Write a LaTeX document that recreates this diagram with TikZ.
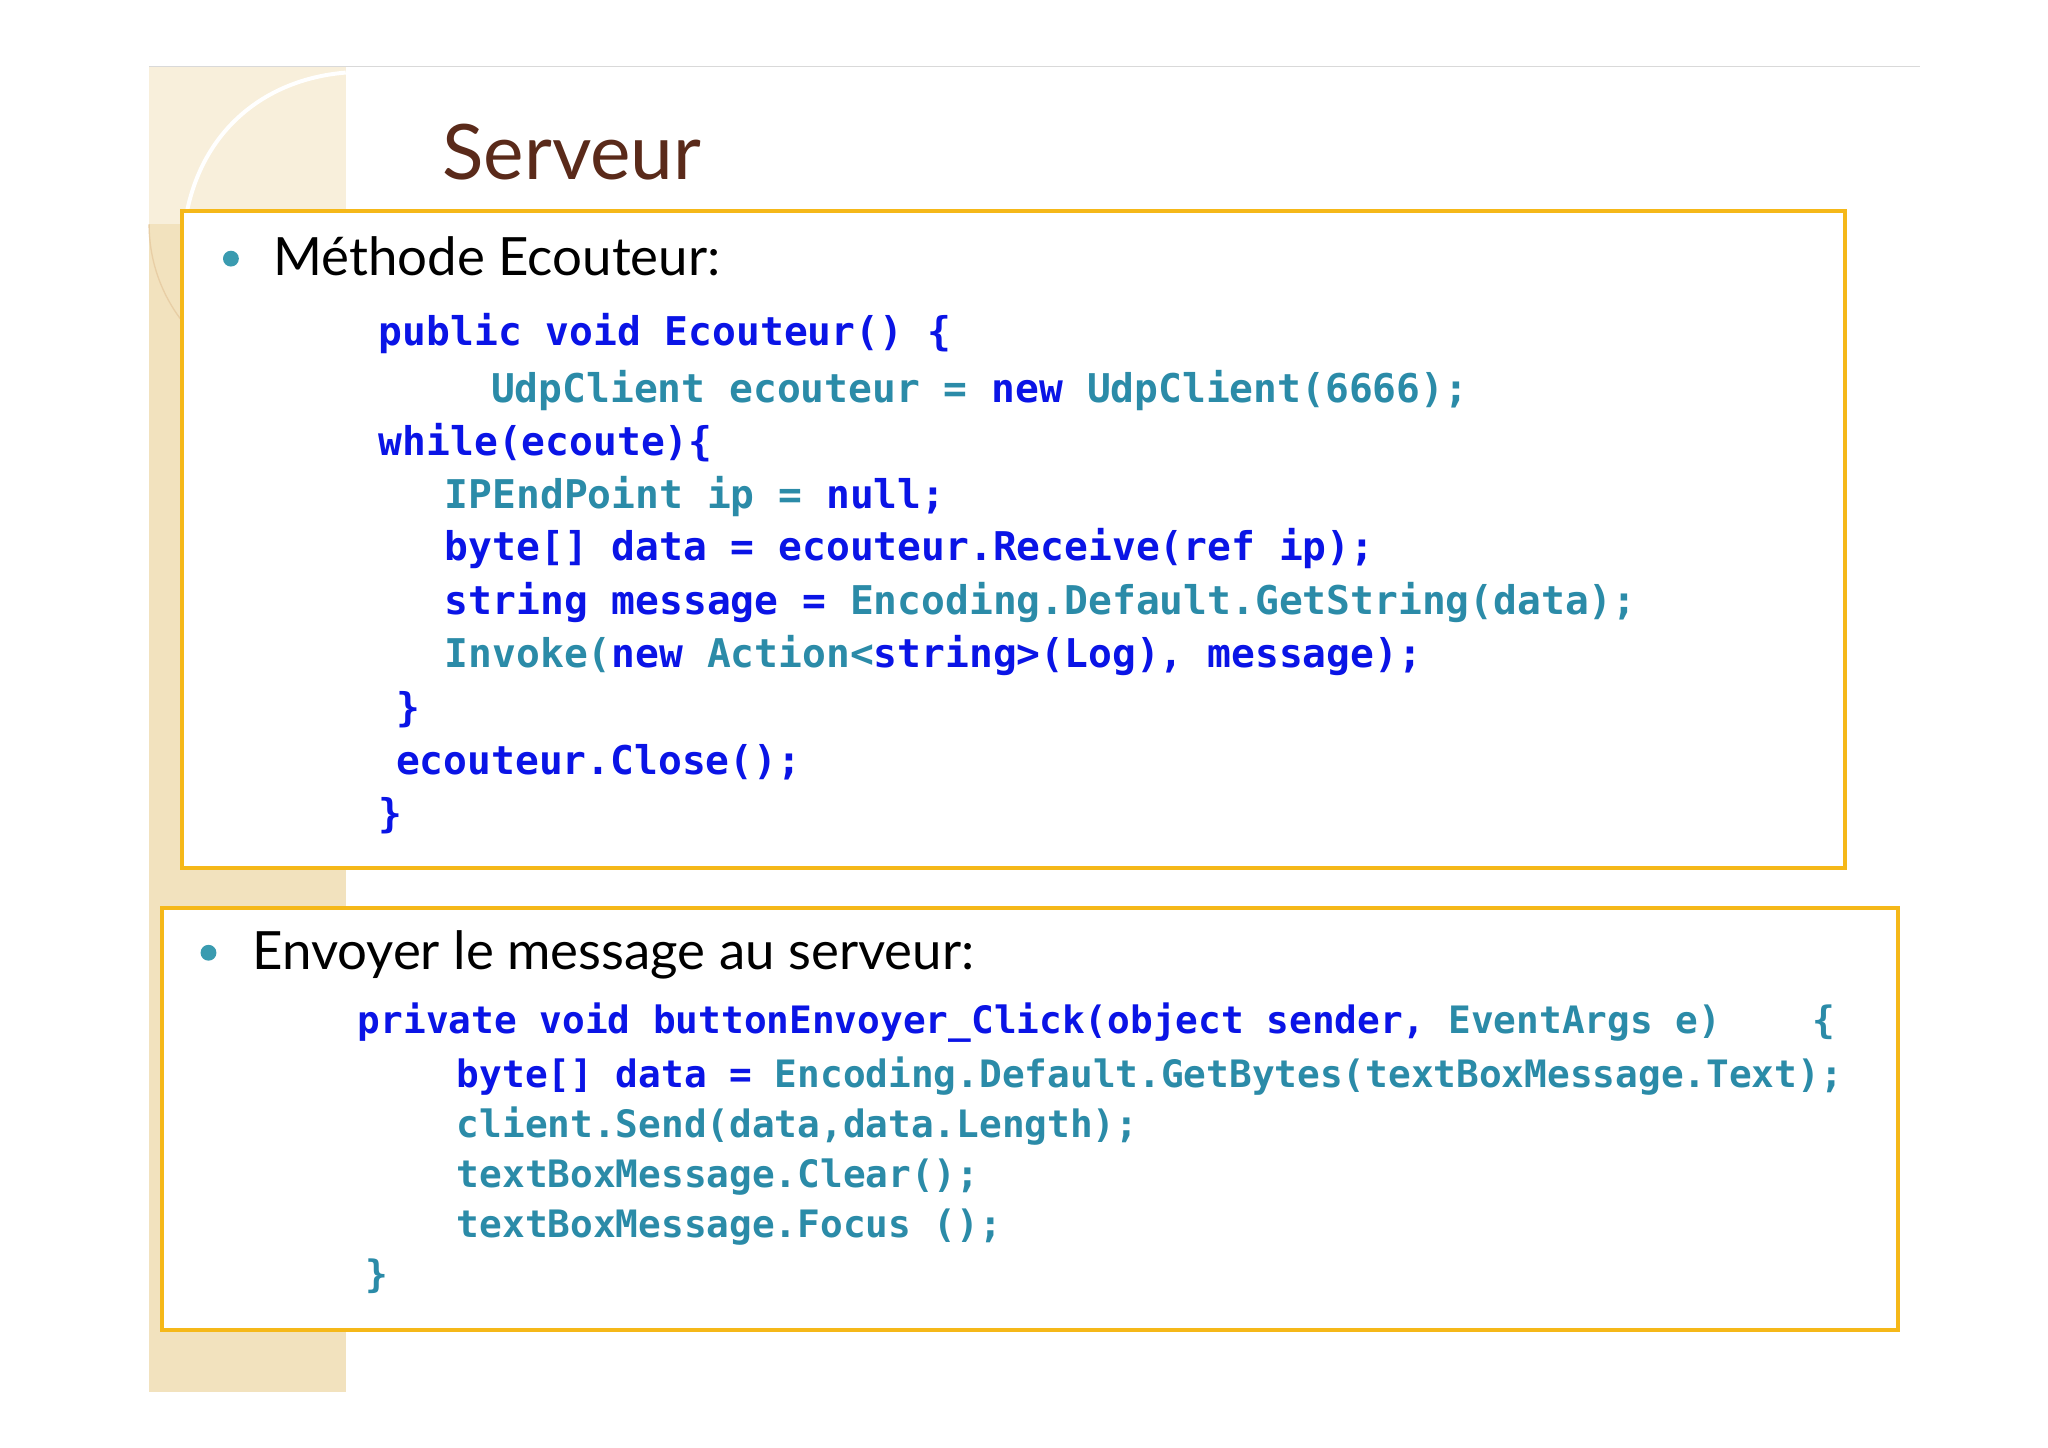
\documentclass[tikz,border=0pt]{standalone}
\usepackage{fontspec}
\setmainfont{Lato}
\newfontfamily\codefont{DejaVu Sans Mono}
\definecolor{kw}{HTML}{0A14E6}
\definecolor{ty}{HTML}{2B8BA8}
\definecolor{boxc}{HTML}{F5B819}
\definecolor{stripe}{HTML}{F2E2BE}
\definecolor{titlec}{HTML}{5A2A1A}
\definecolor{bul}{HTML}{3A9BB0}
\tikzset{
  codeA/.style={anchor=base west,inner sep=0pt,font=\codefont\bfseries\fontsize{30}{36}\selectfont},
  codeB/.style={anchor=base west,inner sep=0pt,font=\codefont\bfseries\fontsize{28.6}{34}\selectfont},
  frame/.style={draw=boxc,line width=3pt,fill=white},
  head/.style={anchor=base west,inner sep=0pt,font=\fontsize{40}{48}\selectfont},
}
\begin{document}
\begin{tikzpicture}[x=1pt,y=-1pt]
\useasboundingbox (0,0) rectangle (1552,1097);
\fill[white] (0,0) rectangle (1552,1097);
\fill[stripe] (113,50) rectangle (262,1055);
\fill[stripe!55] (113,50) rectangle (262,170);
\draw[gray!30] (113,50) -- (1455,50);
\draw[stripe!80!brown,line width=1pt] (113,170) arc[start angle=180,end angle=90,radius=120];
\draw[white,line width=3pt] (140,170) .. controls (150,100) and (200,60) .. (262,55);
\node[anchor=base west,inner sep=0pt,text=titlec,font=\fontsize{58}{64}\selectfont] (title) at (335,136) {Serveur};
% box 1
\draw[frame] (138,160) rectangle (1398,658);
\fill[bul] (175,196) circle (6);
\node[head] (h1) at (207,209) {Méthode Ecouteur:};
\node[codeA,text=kw] (l1) at (287,262) {public void Ecouteur() \{};
\node[codeA] (l2) at (372,305) {\textcolor{ty}{UdpClient ecouteur =} \textcolor{kw}{new} \textcolor{ty}{UdpClient(6666);}};
\node[codeA,text=kw] (l3) at (287,345) {while(ecoute)\{};
\node[codeA] (l4) at (337,385) {\textcolor{ty}{IPEndPoint ip =} \textcolor{kw}{null;}};
\node[codeA,text=kw] (l5) at (337,425) {byte[] data = ecouteur.Receive(ref ip);};
\node[codeA] (l6) at (337,466) {\textcolor{kw}{string message =} \textcolor{ty}{Encoding.Default.GetString(data);}};
\node[codeA] (l7) at (337,506) {\textcolor{ty}{Invoke(}\textcolor{kw}{new} \textcolor{ty}{Action<}\textcolor{kw}{string>(Log), message);}};
\node[codeA,text=kw] (l8) at (300,547) {\}};
\node[codeA,text=kw] (l9) at (300,587) {ecouteur.Close();};
\node[codeA,text=kw] (l10) at (287,627) {\}};
% box 2
\draw[frame] (123,688) rectangle (1438,1008);
\fill[bul] (158,722) circle (6);
\node[head] (h2) at (191,735) {Envoyer le message au serveur:};
\node[codeB] (m1) at (271,783) {\textcolor{kw}{private void buttonEnvoyer\_Click(object sender,} \textcolor{ty}{EventArgs e)\ \ \ \ \{}};
\node[codeB] (m2) at (346,824) {\textcolor{kw}{byte[] data =} \textcolor{ty}{Encoding.Default.GetBytes(textBoxMessage.Text);}};
\node[codeB,text=ty] (m3) at (346,862) {client.Send(data,data.Length);};
\node[codeB,text=ty] (m4) at (346,900) {textBoxMessage.Clear();};
\node[codeB,text=ty] (m5) at (346,938) {textBoxMessage.Focus ();};
\node[codeB,text=ty] (m6) at (277,976) {\}};
\end{tikzpicture}
\end{document}
